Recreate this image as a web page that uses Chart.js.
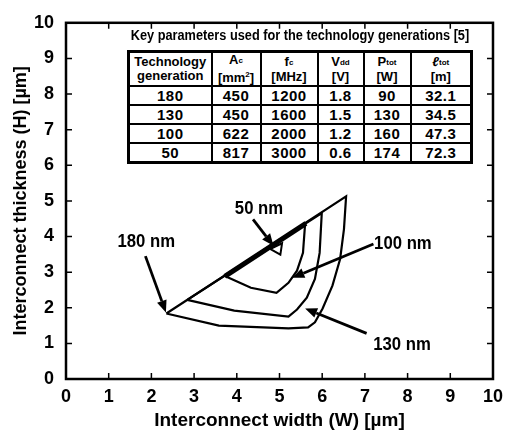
<!DOCTYPE html>
<html>
<head>
<meta charset="utf-8">
<script src="https://cdn.jsdelivr.net/npm/chart.js@4.4.1/dist/chart.umd.min.js"></script>
<style>
html, body { margin: 0; padding: 0; background: #fff; }
#wrap { position: relative; width: 510px; height: 433px; }
#tblTitle {
  position: absolute; left: 100px; top: 27px; width: 400px; text-align: center; white-space: nowrap;
  font: bold 14px "Liberation Sans", sans-serif; color: #000;
  transform: scaleX(0.91); transform-origin: 200px 0;
}
#tbl {
  position: absolute; left: 127px; top: 50px; width: 343px; height: 110px;
  border-collapse: collapse; background: #fff; table-layout: fixed;
  font-family: "Liberation Sans", sans-serif; font-weight: bold; color: #000;
  border: 3px solid #000;
}
#tbl td { border: 2px solid #000; text-align: center; padding: 0; }
#tbl tr.hd td { font: bold 13px/14px "Liberation Sans", sans-serif; height: 30px; }
#tbl tr.bd td { font-size: 15px; letter-spacing: 0.5px; height: 17px; line-height: 16px; }
#tbl sub { font-size: 8px; vertical-align: 1px; }
#tbl sup { font-size: 8px; }
</style>
</head>
<body>
<div id="wrap">
  <canvas id="myChart" width="510" height="433"></canvas>
  <div id="tblTitle">Key parameters used for the technology generations [5]</div>
  <table id="tbl"></table>
</div>
<script>
// ---- table data ----
const techGen = ['180', '130', '100', '50'];
const areaAc = ['450', '450', '622', '817'];
const freqFc = ['1200', '1600', '2000', '3000'];
const vddV = ['1.8', '1.5', '1.2', '0.6'];
const ptotW = ['90', '130', '160', '174'];
const ltotM = ['32.1', '34.5', '47.3', '72.3'];
const headers = [
  'Technology<br>generation',
  'A<sub>c</sub><br>[mm<sup>2</sup>]',
  'f<sub>c</sub><br>[MHz]',
  'V<sub>dd</sub><br>[V]',
  'P<sub>tot</sub><br>[W]',
  '<i>&#8467;</i><sub>tot</sub><br>[m]'
];
const colWidths = [83, 49, 57, 46, 47, 61];

// ---- design windows (W, H in um) ----
const w180 = [2.35, 3.58, 5.21, 5.67, 5.83, 6.01, 6.24, 6.42, 6.51, 6.56, 2.35];
const h180 = [1.84, 1.50, 1.42, 1.45, 1.59, 1.98, 2.62, 3.37, 4.21, 5.13, 1.84];
const w130 = [2.84, 3.94, 5.21, 5.41, 5.64, 5.83, 5.94, 5.99, 2.84];
const h130 = [2.22, 1.92, 1.75, 1.95, 2.28, 2.81, 3.54, 4.66, 2.22];
const w100 = [3.72, 4.33, 4.93, 5.21, 5.41, 5.55, 5.60, 3.72];
const h100 = [2.89, 2.56, 2.42, 2.70, 3.04, 3.54, 4.36, 2.89];
const w50 = [4.78, 5.02, 5.06, 4.78];
const h50 = [3.65, 3.49, 3.81, 3.65];
// overlapping upper edge (drawn heavier where the windows coincide)
const sharedW = [3.72, 5.62];
const sharedH = [2.88, 4.37];

// ---- callouts ----
const labelText = ['50 nm', '180 nm', '100 nm', '130 nm'];
const labelW = [4.52, 1.88, 7.89, 7.87];
const labelH = [4.79, 3.84, 3.79, 0.95];
const arrowFromW = [4.38, 1.86, 7.20, 7.04];
const arrowFromH = [4.48, 3.45, 3.79, 1.28];
const arrowToW = [4.86, 2.34, 5.30, 5.60];
const arrowToH = [3.74, 1.87, 2.84, 1.98];

const tickValues = [0, 1, 2, 3, 4, 5, 6, 7, 8, 9, 10];

// build table
const tbl = document.getElementById('tbl');
let html = '<colgroup>' + colWidths.map(w => '<col style="width:' + w + 'px">').join('') + '</colgroup>';
html += '<tr class="hd">' + headers.map(h => '<td>' + h + '</td>').join('') + '</tr>';
for (let i = 0; i < techGen.length; i++) {
  html += '<tr class="bd"><td>' + techGen[i] + '</td><td>' + areaAc[i] + '</td><td>' + freqFc[i] +
    '</td><td>' + vddV[i] + '</td><td>' + ptotW[i] + '</td><td>' + ltotM[i] + '</td></tr>';
}
tbl.innerHTML = html;

function toPoints(ws, hs) {
  return ws.map((w, i) => ({ x: w, y: hs[i] }));
}

function shape(ws, hs, width) {
  return {
    data: toPoints(ws, hs),
    showLine: true,
    borderColor: '#000',
    borderWidth: width,
    pointRadius: 0,
    tension: 0,
    fill: false
  };
}

// frame, inward ticks, arrows and labels
const decorations = {
  id: 'decorations',
  afterDatasetsDraw(chart) {
    const ctx = chart.ctx;
    const xs = chart.scales.x, ys = chart.scales.y;
    const a = chart.chartArea;
    ctx.save();
    ctx.strokeStyle = '#000';
    ctx.fillStyle = '#000';

    // ticks
    ctx.lineWidth = 1.5;
    tickValues.forEach(v => {
      const px = xs.getPixelForValue(v);
      const py = ys.getPixelForValue(v);
      ctx.beginPath();
      ctx.moveTo(px, a.bottom); ctx.lineTo(px, a.bottom - 6);
      ctx.moveTo(px, a.top); ctx.lineTo(px, a.top + 6);
      ctx.moveTo(a.left, py); ctx.lineTo(a.left + 6, py);
      ctx.moveTo(a.right, py); ctx.lineTo(a.right - 6, py);
      ctx.stroke();
    });

    // frame
    ctx.lineWidth = 2.5;
    ctx.strokeRect(a.left, a.top, a.right - a.left, a.bottom - a.top);

    // arrows
    for (let i = 0; i < arrowFromW.length; i++) {
      const x0 = xs.getPixelForValue(arrowFromW[i]);
      const y0 = ys.getPixelForValue(arrowFromH[i]);
      const x1 = xs.getPixelForValue(arrowToW[i]);
      const y1 = ys.getPixelForValue(arrowToH[i]);
      const ang = Math.atan2(y1 - y0, x1 - x0);
      const hl = 12, hw = 5;
      const bx = x1 - hl * Math.cos(ang), by = y1 - hl * Math.sin(ang);
      ctx.lineWidth = 2.8;
      ctx.beginPath();
      ctx.moveTo(x0, y0); ctx.lineTo(bx, by);
      ctx.stroke();
      ctx.beginPath();
      ctx.moveTo(x1, y1);
      ctx.lineTo(bx + hw * Math.sin(ang), by - hw * Math.cos(ang));
      ctx.lineTo(bx - hw * Math.sin(ang), by + hw * Math.cos(ang));
      ctx.closePath();
      ctx.fill();
    }

    // labels (condensed look)
    ctx.font = 'bold 19px "Liberation Sans", sans-serif';
    ctx.textAlign = 'center';
    ctx.textBaseline = 'middle';
    labelText.forEach((t, i) => {
      const lx = xs.getPixelForValue(labelW[i]);
      const ly = ys.getPixelForValue(labelH[i]);
      ctx.save();
      ctx.translate(lx, ly);
      ctx.scale(0.88, 1);
      ctx.fillText(t, 0, 0);
      ctx.restore();
    });
    ctx.restore();
  }
};

const ctx = document.getElementById('myChart').getContext('2d');
new Chart(ctx, {
  type: 'scatter',
  data: {
    datasets: [
      shape(w180, h180, 2.2),
      shape(w130, h130, 2.2),
      shape(w100, h100, 2.2),
      shape(w50, h50, 2),
      shape(sharedW, sharedH, 5)
    ]
  },
  options: {
    responsive: false,
    animation: false,
    devicePixelRatio: 1,
    layout: { padding: { top: 20, right: 8, left: 0, bottom: 0 } },
    plugins: { legend: { display: false }, tooltip: { enabled: false } },
    scales: {
      x: {
        type: 'linear', min: 0, max: 10,
        afterFit(scale) { scale.height = 54; },
        grid: { display: false, drawTicks: false },
        border: { display: false },
        ticks: {
          stepSize: 1, padding: 7, color: '#000',
          font: { family: '"Liberation Sans", sans-serif', size: 18, weight: 'bold' }
        },
        title: {
          display: true, text: 'Interconnect width (W) [\u00b5m]', color: '#000',
          padding: { top: 0, bottom: 3 },
          font: { family: '"Liberation Sans", sans-serif', size: 19, weight: 'bold', lineHeight: 1 }
        }
      },
      y: {
        type: 'linear', min: 0, max: 10,
        afterFit(scale) { scale.width = 66; },
        grid: { display: false, drawTicks: false },
        border: { display: false },
        ticks: {
          stepSize: 1, padding: 12, color: '#000',
          font: { family: '"Liberation Sans", sans-serif', size: 18, weight: 'bold' }
        },
        title: {
          display: true, text: 'Interconnect thickness (H) [\u00b5m]', color: '#000',
          padding: { top: 12, bottom: 0 },
          font: { family: '"Liberation Sans", sans-serif', size: 18, weight: 'bold', lineHeight: 1 }
        }
      }
    }
  },
  plugins: [decorations]
});
</script>
</body>
</html>
